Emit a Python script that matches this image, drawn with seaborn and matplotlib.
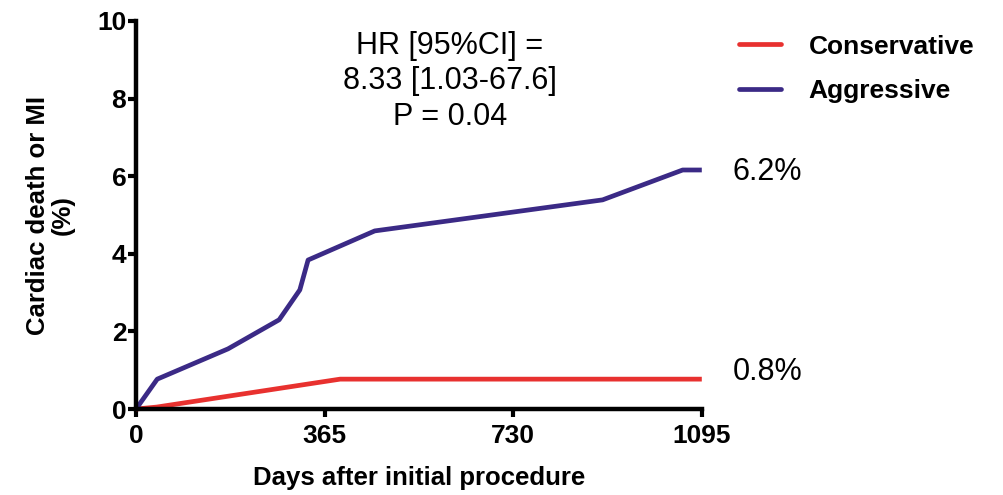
import matplotlib
matplotlib.use("Agg")
import matplotlib.pyplot as plt
import seaborn as sns
import pandas as pd

# Data
aggr_days = [0, 41, 178, 277, 317, 333, 462, 903, 1058, 1095]
aggr_pct = [0, 0.77, 1.55, 2.3, 3.07, 3.84, 4.59, 5.39, 6.16, 6.16]
cons_days = [0, 40, 395, 1095]
cons_pct = [0, 0.05, 0.77, 0.77]
groups = ["Conservative", "Aggressive"]
colors = ["#e8312f", "#3b2a86"]
x_ticks = [0, 365, 730, 1095]
y_ticks = [0, 2, 4, 6, 8, 10]
end_labels = ["0.8%", "6.2%"]

df = pd.concat([
    pd.DataFrame({"day": cons_days, "pct": cons_pct, "group": groups[0]}),
    pd.DataFrame({"day": aggr_days, "pct": aggr_pct, "group": groups[1]}),
])

sns.set_style("ticks")
plt.rcParams["font.family"] = ["Liberation Sans", "DejaVu Sans"]
plt.rcParams["text.color"] = "black"
plt.rcParams["axes.labelcolor"] = "black"
plt.rcParams["xtick.color"] = "black"
plt.rcParams["ytick.color"] = "black"

fig = plt.figure(figsize=(10.04, 4.95), dpi=100)
ax = fig.add_axes([0.1355, 0.1737, 0.5635, 0.7839])

sns.lineplot(data=df, x="day", y="pct", hue="group", palette=dict(zip(groups, colors)),
             linewidth=3.4, ax=ax, sort=False, legend=False, estimator=None)
for l in ax.lines:
    l.set_clip_on(False)
    l.set_solid_capstyle("butt")

ax.set_xlim(0, 1095)
ax.set_ylim(0, 10)
ax.set_xticks(x_ticks)
ax.set_yticks(y_ticks)
for s in ["top", "right"]:
    ax.spines[s].set_visible(False)
for s in ["left", "bottom"]:
    ax.spines[s].set_linewidth(3.2)
    ax.spines[s].set_color("black")
ax.tick_params(axis="both", width=3, length=6, labelsize=19, color="black", labelcolor="black")
ax.tick_params(axis="x", pad=5)
ax.tick_params(axis="y", pad=1)
for lab in ax.get_xticklabels() + ax.get_yticklabels():
    lab.set_fontweight("bold")

ax.set_xlabel("Days after initial procedure", fontsize=18.5, fontweight="bold", labelpad=13)
ax.set_ylabel("Cardiac death or MI\n(%)", fontsize=18.5, fontweight="bold", labelpad=16,
              linespacing=1.05)

ax.text(607, 8.45, "HR [95%CI] =\n8.33 [1.03-67.6]\nP = 0.04", ha="center", va="center",
        fontsize=22, linespacing=1.24)

ax.text(1.055, 6.12, end_labels[1], transform=ax.get_yaxis_transform(),
        ha="left", va="center", fontsize=22)
ax.text(1.055, 0.95, end_labels[0], transform=ax.get_yaxis_transform(),
        ha="left", va="center", fontsize=22)

# legend
handles = [plt.Line2D([], [], color=c, lw=3.4) for c in colors]
leg = fig.legend(handles, groups, loc="upper left", bbox_to_anchor=(0.712, 0.978),
                 frameon=False, handlelength=1.6, handletextpad=1.05, labelspacing=0.78,
                 prop={"size": 19, "weight": "bold"})

fig.savefig("out.png", dpi=100)
